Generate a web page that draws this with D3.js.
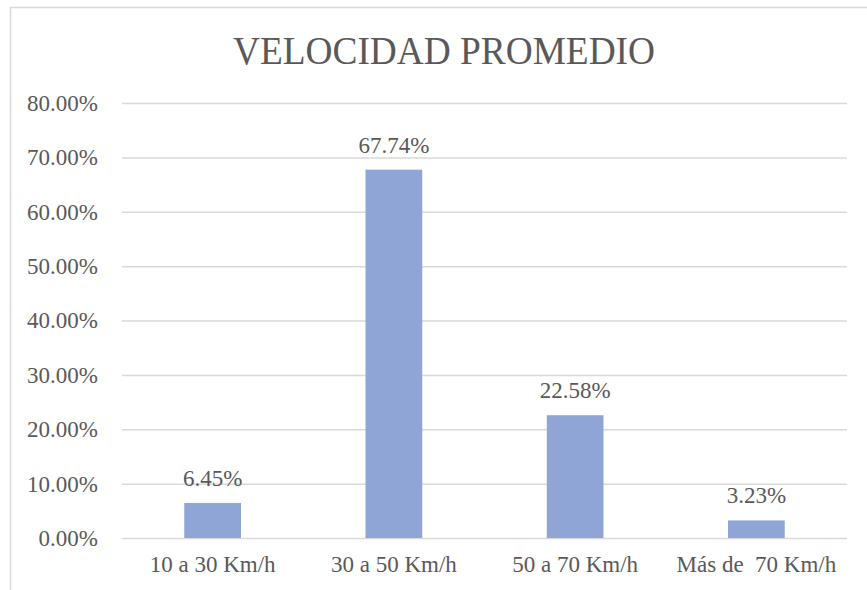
<!DOCTYPE html>
<html>
<head>
<meta charset="utf-8">
<script src="https://cdn.jsdelivr.net/npm/d3@7"></script>
<style>
  body { margin: 0; background: #fff; }
  svg text { font-family: "Liberation Serif", "Times New Roman", serif !important; fill: #595959; }
</style>
</head>
<body>
<div id="chart"></div>
<script>
var categories = ["10 a 30 Km/h", "30 a 50 Km/h", "50 a 70 Km/h", "Más de  70 Km/h"];
var values = [6.45, 67.74, 22.58, 3.23];
var yTicks = [0, 10, 20, 30, 40, 50, 60, 70, 80];
var title = "VELOCIDAD PROMEDIO";

var W = 867, H = 590;
var serif = "'Liberation Serif', 'Times New Roman', serif";
var margin = {top: 103, right: 20, bottom: 52, left: 122},
    width = W - margin.left - margin.right,
    height = H - margin.top - margin.bottom;

var svg = d3.select("#chart").append("svg")
    .attr("width", W)
    .attr("height", H);

// chart frame
svg.append("rect")
    .attr("x", 10.5).attr("y", 7.5)
    .attr("width", W + 20).attr("height", H + 20)
    .attr("fill", "#fff")
    .attr("stroke", "#d9d9d9")
    .attr("stroke-width", 1.5);

svg.append("text")
    .attr("x", 444).attr("y", 64)
    .attr("text-anchor", "middle")
    .attr("font-family", serif)
    .attr("font-size", 40)
    .attr("textLength", 422)
    .attr("lengthAdjust", "spacingAndGlyphs")
    .text(title);

var g = svg.append("g")
    .attr("transform", "translate(" + margin.left + "," + margin.top + ")");

var x = d3.scaleBand().domain(categories).range([0, width]).padding(0);
var y = d3.scaleLinear().domain([0, 80]).range([height, 0]);
var barW = x.bandwidth() * 0.313;

var yAxis = d3.axisLeft(y).tickValues(yTicks)
    .tickSize(-width)
    .tickFormat(function(d) { return d.toFixed(2) + "%"; });

var yAxisGroup = g.append("g").call(yAxis)
    .attr("font-family", serif);
yAxisGroup.select(".domain").remove();
yAxisGroup.selectAll(".tick line").attr("stroke", "#d9d9d9").attr("stroke-width", 1.5);
yAxisGroup.selectAll(".tick text")
    .attr("x", -24)
    .attr("font-size", 23)
    .attr("fill", "#595959");

var xAxisGroup = g.append("g")
    .attr("transform", "translate(0," + height + ")")
    .call(d3.axisBottom(x).tickSize(0).tickPadding(18))
    .attr("font-family", serif);
xAxisGroup.select(".domain").remove();
xAxisGroup.selectAll(".tick text")
    .attr("font-size", 23)
    .attr("fill", "#595959")
    .style("white-space", "pre");

g.selectAll(".bar")
    .data(values)
    .enter().append("rect")
    .attr("class", "bar")
    .attr("x", function(d, i) { return x(categories[i]) + x.bandwidth() / 2 - barW / 2; })
    .attr("y", function(d) { return y(d); })
    .attr("width", barW)
    .attr("height", function(d) { return height - y(d); })
    .attr("fill", "#8fa5d6");

g.selectAll(".lbl")
    .data(values)
    .enter().append("text")
    .attr("class", "lbl")
    .attr("x", function(d, i) { return x(categories[i]) + x.bandwidth() / 2; })
    .attr("y", function(d) { return y(d) - 17; })
    .attr("text-anchor", "middle")
    .attr("font-family", serif)
    .attr("font-size", 23)
    .text(function(d) { return d.toFixed(2) + "%"; });
</script>
</body>
</html>
